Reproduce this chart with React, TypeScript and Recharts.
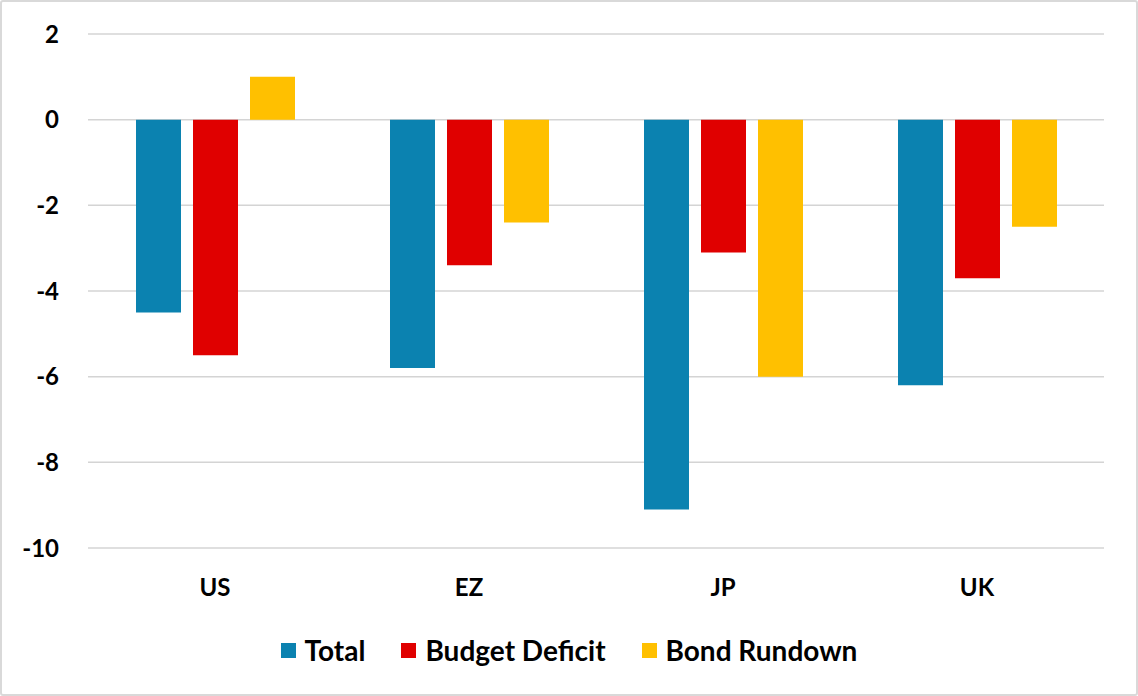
import React from 'react';
import { BarChart, Bar, XAxis, YAxis, CartesianGrid, Legend } from 'recharts';

const categories = ['US', 'EZ', 'JP', 'UK'];
const total = [-4.5, -5.8, -9.1, -6.2];
const budgetDeficit = [-5.5, -3.4, -3.1, -3.7];
const bondRundown = [1.0, -2.4, -6.0, -2.5];
const yTicks = [-10, -8, -6, -4, -2, 0, 2];

const seriesNames = ['Total', 'Budget Deficit', 'Bond Rundown'];
const seriesColors = ['#0b82b0', '#e00000', '#ffc000'];

const data = categories.map((name, i) => ({
  name,
  total: total[i],
  budget: budgetDeficit[i],
  bond: bondRundown[i],
}));

const FONT = 'Lato, "Open Sans", sans-serif';

const renderLegend = () => (
  <div
    style={{
      display: 'flex',
      justifyContent: 'center',
      alignItems: 'center',
      height: 40,
      paddingLeft: 34,
      fontFamily: FONT,
      fontWeight: 700,
      fontSize: 28,
      color: '#000',
    }}
  >
    {seriesNames.map((n, i) => (
      <div key={n} style={{ display: 'flex', alignItems: 'center', marginRight: i < 2 ? 36 : 0 }}>
        <span style={{ width: 15, height: 15, background: seriesColors[i], display: 'inline-block', marginRight: 9 }} />
        <span>{n}</span>
      </div>
    ))}
  </div>
);

const App: React.FC = () => {
  return (
    <div style={{ position: 'absolute', left: 0, top: 0, width: 1138, height: 696, background: '#fff' }}>
      <BarChart
        width={1138}
        height={696}
        data={data}
        margin={{ top: 34, right: 34, left: 0, bottom: 26 }}
        barSize={45}
        barGap={12}
      >
        <CartesianGrid vertical={false} stroke="#d4d4d4" strokeWidth={1.5} />
        <XAxis
          dataKey="name"
          axisLine={false}
          tickLine={false}
          tickSize={0}
          tickMargin={31}
          height={82}
          tick={{ fontFamily: FONT, fontWeight: 700, fontSize: 24, fill: '#000' }}
        />
        <YAxis
          width={88}
          domain={[-10, 2]}
          ticks={yTicks}
          axisLine={false}
          tickLine={false}
          tickSize={0}
          tickMargin={29}
          tick={{ fontFamily: FONT, fontWeight: 700, fontSize: 24, fill: '#000' }}
        />
        <Legend verticalAlign="bottom" content={renderLegend} />
        <Bar dataKey="total" name="Total" fill={seriesColors[0]} isAnimationActive={false} />
        <Bar dataKey="budget" name="Budget Deficit" fill={seriesColors[1]} isAnimationActive={false} />
        <Bar dataKey="bond" name="Bond Rundown" fill={seriesColors[2]} isAnimationActive={false} />
      </BarChart>
      <div
        style={{
          position: 'absolute',
          left: 0,
          top: 0,
          width: 1138,
          height: 696,
          boxSizing: 'border-box',
          border: '2px solid #d9d9d9',
          borderRadius: 3,
          pointerEvents: 'none',
        }}
      />
    </div>
  );
};

export default App;
